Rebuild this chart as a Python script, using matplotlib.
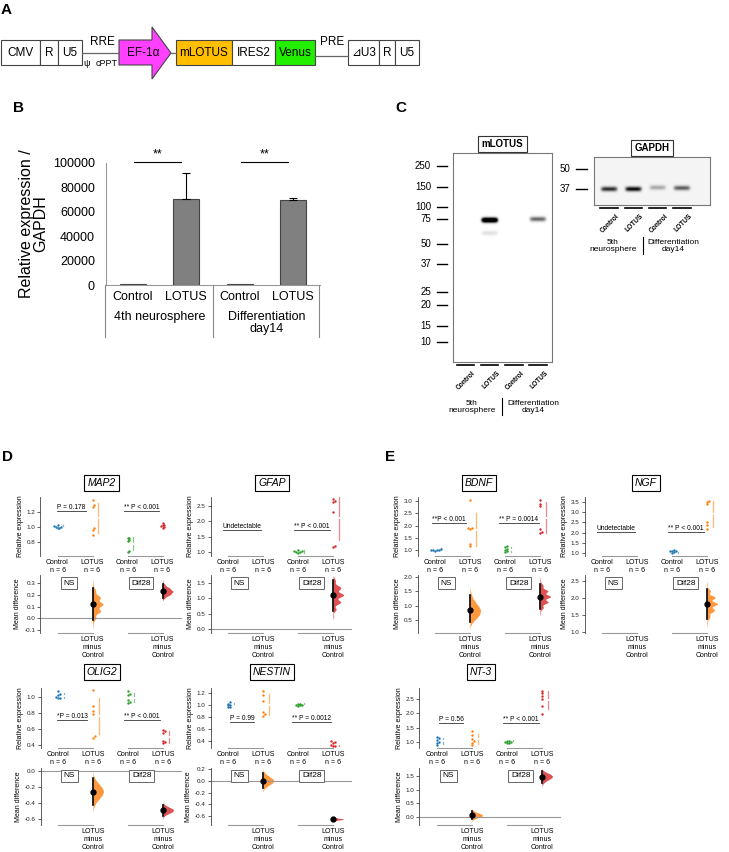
import numpy as np
import matplotlib
matplotlib.use('Agg')
import matplotlib.pyplot as plt
from matplotlib.patches import Rectangle, Polygon
from matplotlib.transforms import blended_transform_factory as blend
from matplotlib.ticker import FormatStrFormatter

plt.rcParams['font.family'] = ['Liberation Sans', 'DejaVu Sans']

W, H = 729, 852

# ---------------- data ----------------
# A: lentiviral vector
vec_left = ['CMV', 'R', 'U5']
vec_mid = ['mLOTUS', 'IRES2', 'Venus']
vec_right = ['\u22bfU3', 'R', 'U5']
vec_promoter = 'EF-1\u03b1'

# B: qPCR of LOTUS
b_groups = ['4th neurosphere', 'Differentiation\nday14']
b_labels = ['Control', 'LOTUS', 'Control', 'LOTUS']
b_means = [500, 70500, 500, 69500]
b_err = [0, 21500, 0, 1500]
b_sig = ['**', '**']

# C: western blots
blot_lanes = ['Control', 'LOTUS', 'Control', 'LOTUS']
blot_groups = ['5th\nneurosphere', 'Differentiation\nday14']
lotus_ladder_kda = [250, 150, 100, 75, 50, 37, 25, 20, 15, 10]
lotus_ladder_mig = [13, 34, 54, 66, 91, 111, 139, 152, 173, 189]
lotus_band_lane = [1, 1, 3]
lotus_band_mig = [67, 80, 66]
lotus_band_int = [1.8, 0.12, 0.6]
gapdh_ladder_kda = [50, 37]
gapdh_ladder_mig = [12, 32]
gapdh_band_lane = [0, 1, 2, 3]
gapdh_band_mig = [32, 32, 30.5, 31]
gapdh_band_int = [0.8, 0.95, 0.3, 0.6]

# D / E: relative expression (n = 6 each)
map2_ns_ctrl = [1.01, 1.00, 0.99, 1.00, 1.02, 0.99]
map2_ns_lotus = [1.35, 1.28, 1.26, 0.98, 0.96, 0.90]
map2_dif_ctrl = [0.86, 0.85, 0.83, 0.81, 0.69, 0.67]
map2_dif_lotus = [1.05, 1.03, 1.02, 1.01, 1.00, 0.99]
map2_p = ['P = 0.178', '** P < 0.001']

gfap_dif_ctrl = [1.05, 1.03, 1.02, 1.00, 0.99, 0.98]
gfap_dif_lotus = [2.72, 2.65, 2.62, 2.28, 1.20, 1.17]
gfap_p = ['Undetectable', '** P < 0.001']

olig2_ns_ctrl = [1.07, 1.04, 1.02, 1.00, 0.99, 0.98]
olig2_ns_lotus = [1.08, 0.88, 0.82, 0.79, 0.51, 0.49]
olig2_dif_ctrl = [1.07, 1.04, 1.02, 0.96, 0.94, 0.92]
olig2_dif_lotus = [0.59, 0.57, 0.55, 0.45, 0.43, 0.42]
olig2_p = ['*P = 0.013', '** P < 0.001']

nestin_ns_ctrl = [1.04, 1.02, 1.00, 0.99, 0.97, 0.96]
nestin_ns_lotus = [1.23, 1.17, 1.06, 0.88, 0.84, 0.82]
nestin_dif_ctrl = [1.02, 1.01, 1.00, 1.00, 0.99, 0.98]
nestin_dif_lotus = [0.39, 0.38, 0.37, 0.33, 0.32, 0.31]
nestin_p = ['P = 0.99', '** P = 0.0012']

bdnf_ns_ctrl = [1.03, 1.01, 1.00, 0.99, 0.98, 0.97]
bdnf_ns_lotus = [3.05, 1.90, 1.88, 1.85, 1.25, 1.15]
bdnf_dif_ctrl = [1.15, 1.10, 1.05, 1.00, 0.95, 0.90]
bdnf_dif_lotus = [3.05, 2.90, 2.80, 1.85, 1.75, 1.70]
bdnf_p = ['**P < 0.001', '** P = 0.0014']

ngf_dif_ctrl = [1.15, 1.12, 1.10, 1.08, 1.05, 1.02]
ngf_dif_lotus = [3.55, 3.50, 3.40, 2.50, 2.35, 2.20]
ngf_p = ['Undetectable', '** P < 0.001']

nt3_ns_ctrl = [1.18, 1.14, 1.08, 1.00, 0.95, 0.88]
nt3_ns_lotus = [1.38, 1.25, 1.12, 1.02, 0.97, 0.90]
nt3_dif_ctrl = [1.05, 1.03, 1.00, 0.99, 0.97, 0.96]
nt3_dif_lotus = [2.78, 2.70, 2.60, 2.50, 2.25, 1.97]
nt3_p = ['P = 0.56', '** P < 0.001']

group_tags = ['NS', 'Dif28']
tick_names = ['Control\nn = 6', 'LOTUS\nn = 6', 'Control\nn = 6', 'LOTUS\nn = 6']
delta_name = 'LOTUS\nminus\nControl'

BLUE, ORANGE, GREEN, RED = '#1f77b4', '#ff7f0e', '#2ca02c', '#d62728'

# ---------------- helpers ----------------
fig = plt.figure(figsize=(W / 100, H / 100), dpi=100)


def add_px(x0, y0, x1, y1):
    return fig.add_axes([x0 / W, 1 - y1 / H, (x1 - x0) / W, (y1 - y0) / H])


ov = add_px(0, 0, W, H)
ov.set_xlim(0, W)
ov.set_ylim(H, 0)
ov.axis('off')
ov.set_zorder(10)

for lab, x, y in [('A', 1, 10), ('B', 13, 108), ('C', 395, 108), ('D', 2, 457), ('E', 385, 457)]:
    ov.text(x, y, lab, fontsize=11, fontweight='bold', ha='left', va='center')

# ---------------- A ----------------
def box_row(edges, labels, colors=None, y0=40, y1=65):
    for i, lab in enumerate(labels):
        fc = colors[i] if colors else 'white'
        ov.add_patch(Rectangle((edges[i], y0), edges[i + 1] - edges[i], y1 - y0,
                               fc=fc, ec='#444', lw=0.8))
        ov.text((edges[i] + edges[i + 1]) / 2, (y0 + y1) / 2 + 0.5, lab,
                ha='center', va='center', fontsize=8.5)


box_row([1, 40, 58, 82], vec_left)
ov.plot([82, 119], [53, 53], color='#666', lw=0.9)
ov.text(102, 42, 'RRE', ha='center', va='center', fontsize=8.5)
ov.text(87, 63, '\u03c8', ha='center', va='center', fontsize=6.5)
ov.text(107, 63, 'cPPT', ha='center', va='center', fontsize=6.5)
ov.add_patch(Polygon([(119, 40), (152, 40), (152, 27), (171, 53), (152, 79), (152, 65), (119, 65)],
                     closed=True, fc='#ff40ff', ec='#444', lw=0.8))
ov.text(143, 53, vec_promoter, ha='center', va='center', fontsize=8.5)
ov.plot([171, 176], [53, 53], color='#666', lw=0.9)
box_row([176, 232, 275, 315], vec_mid, colors=['#ffbf00', 'white', '#22ee00'])
ov.plot([315, 348], [56, 56], color='#666', lw=0.9)
ov.text(332, 42, 'PRE', ha='center', va='center', fontsize=8.5)
box_row([348, 379, 395, 419], vec_right)

# ---------------- B ----------------
axb = add_px(106, 163, 320, 285)
xb = np.arange(len(b_means))
axb.bar(xb, b_means, width=0.49, color='#808080', edgecolor='#444', lw=0.8)
has_err = np.array(b_err) > 0
axb.errorbar(xb[has_err], np.array(b_means)[has_err],
             yerr=[np.zeros(has_err.sum()), np.array(b_err)[has_err]],
             fmt='none', ecolor='black', elinewidth=0.8, capsize=3, capthick=0.8)
axb.set_xlim(-0.5, 3.5)
axb.set_ylim(0, 100000)
axb.set_yticks(np.arange(0, 100001, 20000))
axb.tick_params(axis='y', length=0, labelsize=9, pad=8)
axb.set_xticks([])
for s in ['top', 'right']:
    axb.spines[s].set_visible(False)
for s in ['left', 'bottom']:
    axb.spines[s].set_color('#999')
axb.set_ylabel('Relative expression /\nGAPDH', fontsize=11.5, linespacing=0.95, labelpad=3)
tb = blend(axb.transData, ov.transData)
for k, s in enumerate(b_sig):
    ov.plot([2 * k + 0.02, 2 * k + 0.9], [162, 162], color='black', lw=0.8, transform=tb)
    ov.text(2 * k + 0.46, 160, s, ha='center', va='bottom', fontsize=9, transform=tb)
for xv in [-0.52, 1.5, 3.48]:
    ov.plot([xv, xv], [285, 337], color='#888', lw=0.8, transform=tb)
for i, lab in enumerate(b_labels):
    ov.text(i, 297, lab, ha='center', va='center', fontsize=9, transform=tb)
for k, g in enumerate(b_groups):
    ov.text(2 * k + 0.5, 311, g, ha='center', va='top', fontsize=9, linespacing=1.0, transform=tb)

# ---------------- C ----------------
def draw_blot(box, xlim, mig_max, kda, mig, b_lane, b_mig, b_int, title, lab_x, tick_x, line_y, grp_x, bar_x, grp_y, bg=0.0):
    ax = add_px(*box)
    xs = np.linspace(xlim[0], xlim[1], 400)
    ys = np.linspace(0, mig_max, 500)
    X, Y = np.meshgrid(xs, ys)
    img = np.full(X.shape, bg)
    for l, m, a in zip(b_lane, b_mig, b_int):
        img += a * np.exp(-((X - (l + 0.5)) / 0.33) ** 6) * np.exp(-((Y - m) / 2.3) ** 2)
    ax.imshow(1 - np.clip(img, 0, 1), cmap='gray', vmin=0, vmax=1, aspect='auto',
              extent=(xlim[0], xlim[1], mig_max, 0), interpolation='bilinear')
    ax.set_xlim(xlim)
    ax.set_ylim(mig_max, 0)
    ax.set_xticks([])
    ax.set_yticks([])
    for s in ax.spines.values():
        s.set_color('#777')
        s.set_linewidth(0.8)
    tr = blend(ov.transData, ax.transData)
    for k, m in zip(kda, mig):
        ov.plot(tick_x, [m, m], color='black', lw=1.0, transform=tr)
        ov.text(lab_x, m, str(k), ha='right', va='center', fontsize=7, transform=tr)
    ov.text((box[0] + box[2]) / 2, box[1] - 9, title, ha='center', va='center', fontsize=7,
            fontweight='bold', bbox=dict(boxstyle='square,pad=0.35', fc='white', ec='#333', lw=0.8))
    tl = blend(ax.transData, ov.transData)
    for i, lab in enumerate(blot_lanes):
        ov.plot([i + 0.14, i + 0.86], [line_y, line_y], color='black', lw=1.2, transform=tl)
        ov.text(i + 0.78, line_y + 5, lab, ha='right', va='top', rotation=45, rotation_mode='anchor',
                fontsize=4.8, fontweight='bold', transform=tl)
    for gx, g in zip(grp_x, blot_groups):
        ov.text(gx, grp_y, g, ha='center', va='center', fontsize=6, linespacing=1.05)
    ov.plot([bar_x, bar_x], [grp_y - 9, grp_y + 8], color='black', lw=0.8)


draw_blot((453, 153, 552, 362), (-0.02, 4.08), 209, lotus_ladder_kda, lotus_ladder_mig,
          lotus_band_lane, lotus_band_mig, lotus_band_int, 'mLOTUS',
          431, [437, 447], 365, [472, 533], 502, 407)
draw_blot((594, 157, 710, 205), (-0.12, 4.65), 48, gapdh_ladder_kda, gapdh_ladder_mig,
          gapdh_band_lane, gapdh_band_mig, gapdh_band_int, 'GAPDH',
          570, [576, 587], 208, [613, 673], 643, 246, bg=0.04)

# ---------------- D / E ----------------
U = 35.0
rows = {1: dict(title=483, top=(497, 556), delta=(575, 633)),
        2: dict(title=672, top=(688, 748), delta=(768, 825))}
IDX = np.indices((6,) * 6).reshape(6, -1).T


def boot_means(v):
    return np.asarray(v)[IDX].mean(axis=1)


def diff_dist(ctrl, trt, nb=240):
    mc, mt = boot_means(ctrl), boot_means(trt)
    h = max(np.ptp(mc), np.ptp(mt)) / (nb - 1)
    hc = np.bincount(np.round((mc - mc.min()) / h).astype(int), minlength=nb)[:nb]
    ht = np.bincount(np.round((mt - mt.min()) / h).astype(int), minlength=nb)[:nb]
    d = np.convolve(ht, hc[::-1]).astype(float)
    xs = mt.min() - mc.min() + (np.arange(d.size) - (nb - 1)) * h
    cdf = np.cumsum(d) / d.sum()
    lo, hi = xs[np.searchsorted(cdf, 0.025)], xs[np.searchsorted(cdf, 0.975)]
    k = np.arange(-30, 31)
    ker = np.exp(-0.5 * (k / 7.0) ** 2)
    dens = np.convolve(d, ker, mode='same')
    return xs, dens / dens.max(), lo, hi


def swarm_x(vals, xc, ppu_y, d=2.3):
    placed, out = [], np.zeros(len(vals))
    for i in np.argsort(vals):
        y = vals[i] * ppu_y
        for k in [0, 1, -1, 2, -2, 3, -3, 4, -4]:
            x = k * d * 0.8
            if all((x - px) ** 2 + (y - py) ** 2 >= d * d * 0.6 for px, py in placed):
                break
        placed.append((x, y))
        out[i] = xc + x / U
    return out


underlined = []


def est_panel(name, c1, row, pairs, pal, p_text, ylim, yt, dlim, dyt, py):
    r = rows[row]
    x0, x1 = c1 - 0.5 * U, c1 + 3.55 * U
    ax = add_px(x0, r['top'][0], x1, r['top'][1])
    axd = add_px(x0, r['delta'][0], x1, r['delta'][1])
    ppu_y = (r['top'][1] - r['top'][0]) / (ylim[1] - ylim[0])
    for a, lim, ticks, lab in [(ax, ylim, yt, 'Relative expression'), (axd, dlim, dyt, 'Mean difference')]:
        a.set_xlim(-0.5, 3.55)
        a.set_ylim(lim)
        a.set_yticks(ticks)
        a.yaxis.set_major_formatter(FormatStrFormatter('%.1f'))
        a.tick_params(axis='y', labelsize=4.5, length=2, width=0.5, pad=1.5, colors='#222')
        a.tick_params(axis='x', labelsize=5, length=0, pad=2)
        for s in ['top', 'right', 'bottom']:
            a.spines[s].set_visible(False)
        a.spines['left'].set_color('#444')
        a.spines['left'].set_linewidth(0.6)
        a.set_ylabel(lab, fontsize=5, labelpad=2)
        a.patch.set_visible(False)
    ax.set_xticks(range(4))
    ax.set_xticklabels(tick_names, linespacing=1.2)
    axd.set_xticks([1, 3])
    axd.set_xticklabels([delta_name] * 2, linespacing=1.2)
    if dlim[0] < 0 < dlim[1]:
        axd.axhline(0, color='#999', lw=0.8)
    for k in range(2):
        ax.plot([2 * k, 2 * k + 1], [ylim[0]] * 2, color='#999', lw=0.8, clip_on=False)
        axd.plot([2 * k, 2 * k + 1], [dlim[0]] * 2, color='#999', lw=0.8, clip_on=False)
        t = ax.text(2 * k + 0.4, py, p_text[k], ha='center', va='center', fontsize=4.8)
        underlined.append(t)
        axd.text(2 * k + (0.33 if k == 0 else 0.39), 0.86, group_tags[k], transform=blend(axd.transData, axd.transAxes),
                 ha='center', va='center', fontsize=6,
                 bbox=dict(boxstyle='square,pad=0.3', fc='white', ec='#666', lw=0.7))
        if pairs[k] is None:
            continue
        for j, vals in enumerate(pairs[k]):
            vals = np.asarray(vals)
            xc = 2 * k + j
            ax.scatter(swarm_x(vals, xc, ppu_y), vals, s=3.0, color=pal[k][j], lw=0, zorder=3)
            m, sd = vals.mean(), vals.std(ddof=1)
            gap = 1.5 / ppu_y
            for ya, yb in [(m - sd, m - gap), (m + gap, m + sd)]:
                ax.plot([xc + 0.17] * 2, [ya, yb], color=pal[k][j], lw=0.9, alpha=0.55)
        ctrl, trt = pairs[k]
        xs, dens, lo, hi = diff_dist(ctrl, trt)
        keep = dens > 0.01
        xp = 2 * k + 1
        axd.fill_betweenx(xs[keep], xp, xp + dens[keep] * 0.3, color=pal[k][1], alpha=0.8, lw=0)
        axd.plot([xp, xp], [lo, hi], color='black', lw=1.2, zorder=4)
        axd.plot(xp, np.mean(trt) - np.mean(ctrl), 'o', color='black', ms=3.5, zorder=5)
    ov.text(c1 + 44, r['title'], name, style='italic', ha='center', va='center', fontsize=7.5,
            bbox=dict(boxstyle='square,pad=0.3', fc='white', ec='black', lw=0.8))


est_panel('MAP2', 57.5, 1, [(map2_ns_ctrl, map2_ns_lotus), (map2_dif_ctrl, map2_dif_lotus)],
          [(BLUE, ORANGE), (GREEN, RED)], map2_p, (0.62, 1.39), [0.8, 1.0, 1.2],
          (-0.125, 0.37), [-0.1, 0.0, 0.1, 0.2, 0.3], 1.25)
est_panel('GFAP', 228, 1, [None, (gfap_dif_ctrl, gfap_dif_lotus)],
          [(BLUE, ORANGE), (GREEN, RED)], gfap_p, (0.87, 2.78), [1.0, 1.5, 2.0, 2.5],
          (-0.13, 1.76), [0.0, 0.5, 1.0, 1.5], 1.83)
est_panel('OLIG2', 58, 2, [(olig2_ns_ctrl, olig2_ns_lotus), (olig2_dif_ctrl, olig2_dif_lotus)],
          [(BLUE, ORANGE), (GREEN, RED)], olig2_p, (0.36, 1.11), [0.4, 0.6, 0.8, 1.0],
          (-0.675, 0.04), [-0.6, -0.4, -0.2, 0.0], 0.76)
est_panel('NESTIN', 228, 2, [(nestin_ns_ctrl, nestin_ns_lotus), (nestin_dif_ctrl, nestin_dif_lotus)],
          [(BLUE, ORANGE), (GREEN, RED)], nestin_p, (0.28, 1.28), [0.4, 0.6, 0.8, 1.0, 1.2],
          (-0.75, 0.217), [-0.6, -0.4, -0.2, 0.0, 0.2], 0.767)
est_panel('BDNF', 435, 1, [(bdnf_ns_ctrl, bdnf_ns_lotus), (bdnf_dif_ctrl, bdnf_dif_lotus)],
          [(BLUE, ORANGE), (GREEN, RED)], bdnf_p, (0.75, 3.17), [1.0, 1.5, 2.0, 2.5, 3.0],
          (0.04, 2.07), [0.5, 1.0, 1.5, 2.0], 2.25)
est_panel('NGF', 602, 1, [None, (ngf_dif_ctrl, ngf_dif_lotus)],
          [(BLUE, ORANGE), (BLUE, ORANGE)], ngf_p, (0.85, 3.75), [1.0, 1.5, 2.0, 2.5, 3.0, 3.5],
          (0.97, 2.68), [1.0, 1.5, 2.0, 2.5], 2.22)
est_panel('NT-3', 437, 2, [(nt3_ns_ctrl, nt3_ns_lotus), (nt3_dif_ctrl, nt3_dif_lotus)],
          [(BLUE, ORANGE), (GREEN, RED)], nt3_p, (0.79, 2.88), [1.0, 1.5, 2.0, 2.5],
          (-0.29, 1.79), [0.0, 0.5, 1.0, 1.5], 1.8)

# underline annotation texts
fig.canvas.draw()
inv = ov.transData.inverted()
for t in underlined:
    bb = t.get_window_extent()
    (xa, ya), (xb_, _) = inv.transform([[bb.x0, bb.y0], [bb.x1, bb.y0]])
    ov.plot([xa, xb_], [ya, ya], color='#333', lw=0.6)

fig.savefig('out.png', dpi=100)
